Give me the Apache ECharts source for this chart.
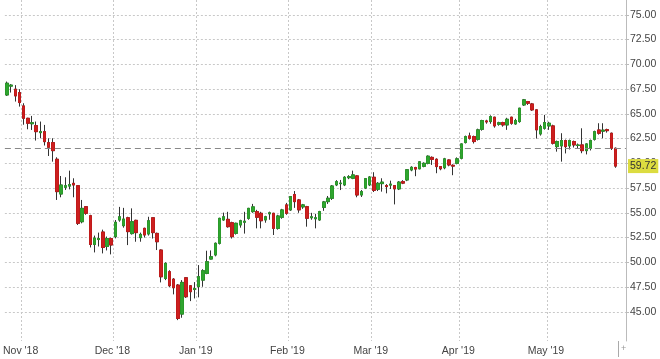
<!DOCTYPE html>
<html><head><meta charset="utf-8">
<script src="https://cdn.jsdelivr.net/npm/echarts/dist/echarts.min.js"></script>
<style>html,body{margin:0;padding:0;background:#fff}#c{width:660px;height:359px}</style>
</head><body><div id="c"></div>
<script>
// trading days per month
const monthDays = [
 "2018-10:26,29,30,31",
 "2018-11:1,2,5,6,7,8,9,12,13,14,15,16,19,20,21,22,23,26,27,28,29,30",
 "2018-12:3,4,5,6,7,10,11,12,13,14,17,18,19,20,21,24,26,27,28,31",
 "2019-01:2,3,4,7,8,9,10,11,14,15,16,17,18,21,22,23,24,25,28,29,30,31",
 "2019-02:1,4,5,6,7,8,11,12,13,14,15,18,19,20,21,22,25,26,27,28",
 "2019-03:1,4,5,6,7,8,11,12,13,14,15,18,19,20,21,22,25,26,27,28,29",
 "2019-04:1,2,3,4,5,8,9,10,11,12,15,16,17,18,22,23,24,25,26,29,30",
 "2019-05:1,2,3,6,7,8,9,10,13,14,15,16,17,20,21,22,23"
];
const padDates = ["2019-05-24", "2019-05-27"];
const monthKeys = ["2018-11","2018-12","2019-01","2019-02","2019-03","2019-04","2019-05"];
const xTickLabels = ["Nov '18","Dec '18","Jan '19","Feb '19","Mar '19","Apr '19","May '19"];
const yTicks = [45, 47.5, 50, 52.5, 55, 57.5, 60, 62.5, 65, 67.5, 70, 72.5, 75];

const open = [
66.91,67.80,67.49,67.15,
65.80,64.55,64.00,63.81,63.10,63.20,62.09,62.09,60.41,56.90,57.58,57.70,57.98,57.74,54.10,55.62,54.71,51.80,52.30,53.06,51.60,52.40,
52.59,54.27,53.70,54.50,52.90,54.24,52.49,53.43,52.86,54.50,52.92,51.24,48.37,49.05,48.30,47.70,44.77,48.44,47.63,47.25,
47.54,48.20,48.88,50.33,50.74,51.92,54.28,54.34,54.00,52.93,53.77,54.05,54.44,55.12,55.12,54.95,54.28,54.90,54.95,53.43,54.55,55.80,
55.29,56.85,56.30,55.60,55.62,54.50,54.40,54.28,55.55,56.13,56.47,57.82,57.95,57.82,58.55,58.49,58.73,56.80,57.50,57.82,
58.59,57.38,57.95,57.75,57.80,57.75,57.42,58.15,58.32,59.33,59.57,59.45,59.70,60.00,60.60,60.41,59.67,59.55,60.34,59.80,60.00,
60.51,62.10,62.77,62.70,62.43,63.44,64.28,64.22,64.66,63.95,64.12,63.88,64.66,63.98,64.22,65.90,66.24,66.00,65.40,62.97,63.54,
63.78,63.78,61.69,61.76,62.30,61.76,62.20,61.80,61.86,61.28,61.52,62.43,63.37,63.25,63.40,63.04,61.52
];
const close = [
68.09,67.90,66.81,66.14,
64.55,64.05,64.10,63.20,63.20,62.19,61.62,61.28,57.14,57.81,57.74,57.85,57.81,53.94,55.45,54.95,51.80,52.45,52.40,51.50,52.40,51.75,
54.04,54.60,54.37,53.10,54.10,53.00,52.82,52.76,54.20,53.00,52.08,48.54,49.89,47.63,47.43,44.33,47.97,46.52,47.03,47.35,
48.55,49.15,50.06,50.56,51.92,54.44,54.60,53.60,52.59,53.94,54.20,54.15,55.45,55.60,54.55,54.20,54.60,55.00,53.43,54.68,55.29,54.95,
56.64,56.13,55.30,55.80,54.45,54.60,54.50,55.12,56.10,56.47,57.71,58.15,58.00,58.59,58.65,58.83,56.80,57.14,58.45,58.62,
57.27,57.98,58.10,57.65,57.90,57.42,58.10,58.00,59.35,59.60,59.42,60.15,60.00,60.72,60.40,59.67,59.45,60.45,59.84,59.72,60.45,
61.96,62.70,62.53,62.20,63.38,64.32,64.18,64.72,63.78,64.10,63.88,64.45,64.05,64.32,65.57,66.41,66.07,65.40,63.38,63.71,64.12,
64.05,62.03,62.20,62.30,61.69,62.30,61.86,61.85,61.28,61.96,62.30,63.20,63.04,63.35,63.30,61.52,59.72
];
const low = [
66.81,67.15,66.24,65.73,
63.90,63.44,63.37,62.30,62.53,61.80,60.74,60.17,56.30,56.57,57.31,57.37,56.57,53.77,53.94,54.80,51.50,51.00,51.60,50.90,51.20,50.80,
52.42,54.10,53.50,51.74,52.80,52.08,52.08,52.50,52.70,52.40,51.24,47.97,48.20,47.50,46.76,44.16,44.40,46.40,46.08,46.35,
46.46,47.53,48.80,50.30,50.60,51.80,54.20,53.50,52.40,52.80,53.50,52.90,54.30,55.00,53.43,53.43,54.00,54.30,52.76,53.30,54.40,54.80,
55.20,55.50,55.00,55.40,53.60,54.30,53.43,54.20,55.20,55.90,56.30,57.70,57.30,57.70,58.40,58.40,56.57,56.60,57.40,57.70,
57.10,57.20,57.14,56.97,57.40,55.85,57.30,57.90,58.20,59.20,58.70,59.40,59.60,59.90,59.84,59.00,59.30,59.40,59.70,58.80,59.90,
60.40,62.00,62.40,62.00,62.30,63.30,64.00,64.00,63.60,63.80,63.70,63.38,63.90,63.90,64.10,65.80,65.90,65.30,62.50,62.80,63.40,
63.38,61.90,61.18,60.17,61.00,61.40,61.60,61.50,61.02,60.90,61.30,62.30,62.90,62.53,63.10,61.35,59.55
];
const high = [
68.26,68.00,67.90,67.49,
66.07,64.60,64.79,64.22,64.22,63.88,62.53,62.53,60.61,58.72,58.59,59.26,58.49,57.80,56.30,55.65,54.80,52.70,53.00,53.30,52.60,52.50,
54.27,55.60,55.50,54.60,55.45,54.30,53.00,53.50,54.60,54.50,53.00,51.30,50.00,49.20,48.40,47.80,48.20,48.50,47.70,48.00,
49.72,49.30,51.17,51.20,52.00,54.50,55.02,55.10,54.10,54.00,54.30,55.10,55.50,55.90,55.30,55.10,54.70,55.12,55.00,54.80,55.40,56.00,
56.70,57.20,56.40,55.90,55.70,55.00,54.90,55.20,56.20,56.70,57.80,58.30,58.32,58.70,58.80,59.26,58.80,57.30,58.50,58.70,
59.10,58.10,58.49,57.90,58.25,57.80,58.20,58.30,59.40,59.70,59.65,60.20,60.10,60.80,60.70,60.50,59.70,60.55,60.40,59.90,60.60,
62.00,62.80,63.10,62.80,63.50,64.40,64.40,64.85,64.70,64.20,64.20,64.60,64.70,64.50,65.60,66.50,66.30,66.10,65.45,63.90,64.89,
64.20,63.90,62.30,63.04,62.40,62.40,62.30,62.00,63.54,62.00,62.40,63.30,64.05,64.05,63.50,63.10,61.60
];

const dates = [];
monthDays.forEach(s => {
  const [ym, d] = s.split(':');
  d.split(',').forEach(x => dates.push(ym + '-' + String(x).padStart(2, '0')));
});
const categories = dates.concat(padDates);
const monthStartIdx = monthKeys.map(k => categories.findIndex(d => d.startsWith(k)));
const isMonthStart = (idx) => monthStartIdx.indexOf(idx) >= 0;

const wickData = open.map((o, i) => [o, close[i], low[i], high[i]]);
const bodyData = open.map((o, i) => [o, close[i], Math.min(o, close[i]), Math.max(o, close[i])]);
const lastClose = close[close.length - 1];
const prevClose = close[close.length - 2];

const FONT = 'Liberation Sans';
const chart = echarts.init(document.getElementById('c'), null, {renderer: 'canvas'});
chart.setOption({
  animation: false,
  backgroundColor: '#fff',
  grid: {left: 1, right: 34, top: 0, bottom: 18, containLabel: false},
  xAxis: {
    type: 'category',
    data: categories,
    boundaryGap: true,
    axisLine: {show: false},
    axisTick: {show: false},
    axisLabel: {
      interval: (idx) => isMonthStart(idx),
      formatter: (val, idx) => {
        const k = monthKeys.indexOf(String(val).slice(0, 7));
        return k >= 0 ? xTickLabels[k] : '';
      },
      color: '#444', fontSize: 10.5, fontFamily: FONT, margin: 5,
      padding: [0, 6, 0, 0]
    },
    splitLine: {
      show: true,
      interval: (idx) => isMonthStart(idx),
      lineStyle: {color: '#c8c8c8', type: [2, 2], width: 1}
    }
  },
  yAxis: {
    type: 'value',
    position: 'right',
    min: 42.05, max: 76.5,
    scale: true,
    axisLine: {show: true, lineStyle: {color: '#bbb'}},
    axisTick: {show: true, length: 3, customValues: yTicks, lineStyle: {color: '#bbb'}},
    axisLabel: {
      customValues: yTicks,
      formatter: (v) => Number(v).toFixed(2),
      color: '#444', fontSize: 10.5, fontFamily: FONT, margin: 4
    },
    splitLine: {show: true, lineStyle: {color: '#c8c8c8', type: [2, 2], width: 1}}
  },
  series: [
    {
      type: 'candlestick',
      data: wickData,
      barWidth: 3,
      silent: true,
      itemStyle: {color: '#333', color0: '#333', borderColor: '#333', borderColor0: '#333', borderWidth: 1}
    },
    {
      type: 'candlestick',
      data: bodyData,
      barWidth: 3,
      silent: true,
      itemStyle: {color: '#2fa52f', color0: '#cc1f1f', borderColor: '#2a9a2a', borderColor0: '#c01a1a', borderWidth: 1},
      markLine: {
        silent: true,
        symbol: 'none',
        animation: false,
        data: [
          {yAxis: prevClose, lineStyle: {type: [6, 4], color: '#888', width: 1}, label: {show: false}},
          {yAxis: lastClose, lineStyle: {color: 'rgba(0,0,0,0)', width: 1},
           label: {show: true, position: 'end', distance: 2, formatter: lastClose.toFixed(2),
                   backgroundColor: '#dcdc40', color: '#333', padding: [2, 2, 1, 2],
                   fontSize: 10.5, fontFamily: FONT}}
        ]
      }
    }
  ],
  graphic: [
    {type: 'line', shape: {x1: 618.5, y1: 341, x2: 618.5, y2: 357}, style: {stroke: '#aaa', lineWidth: 1}, silent: true},
    {type: 'text', left: 621, top: 344, style: {text: '+', fill: '#999', font: '9px Liberation Sans'}, silent: true}
  ]
});
</script>
</body></html>
